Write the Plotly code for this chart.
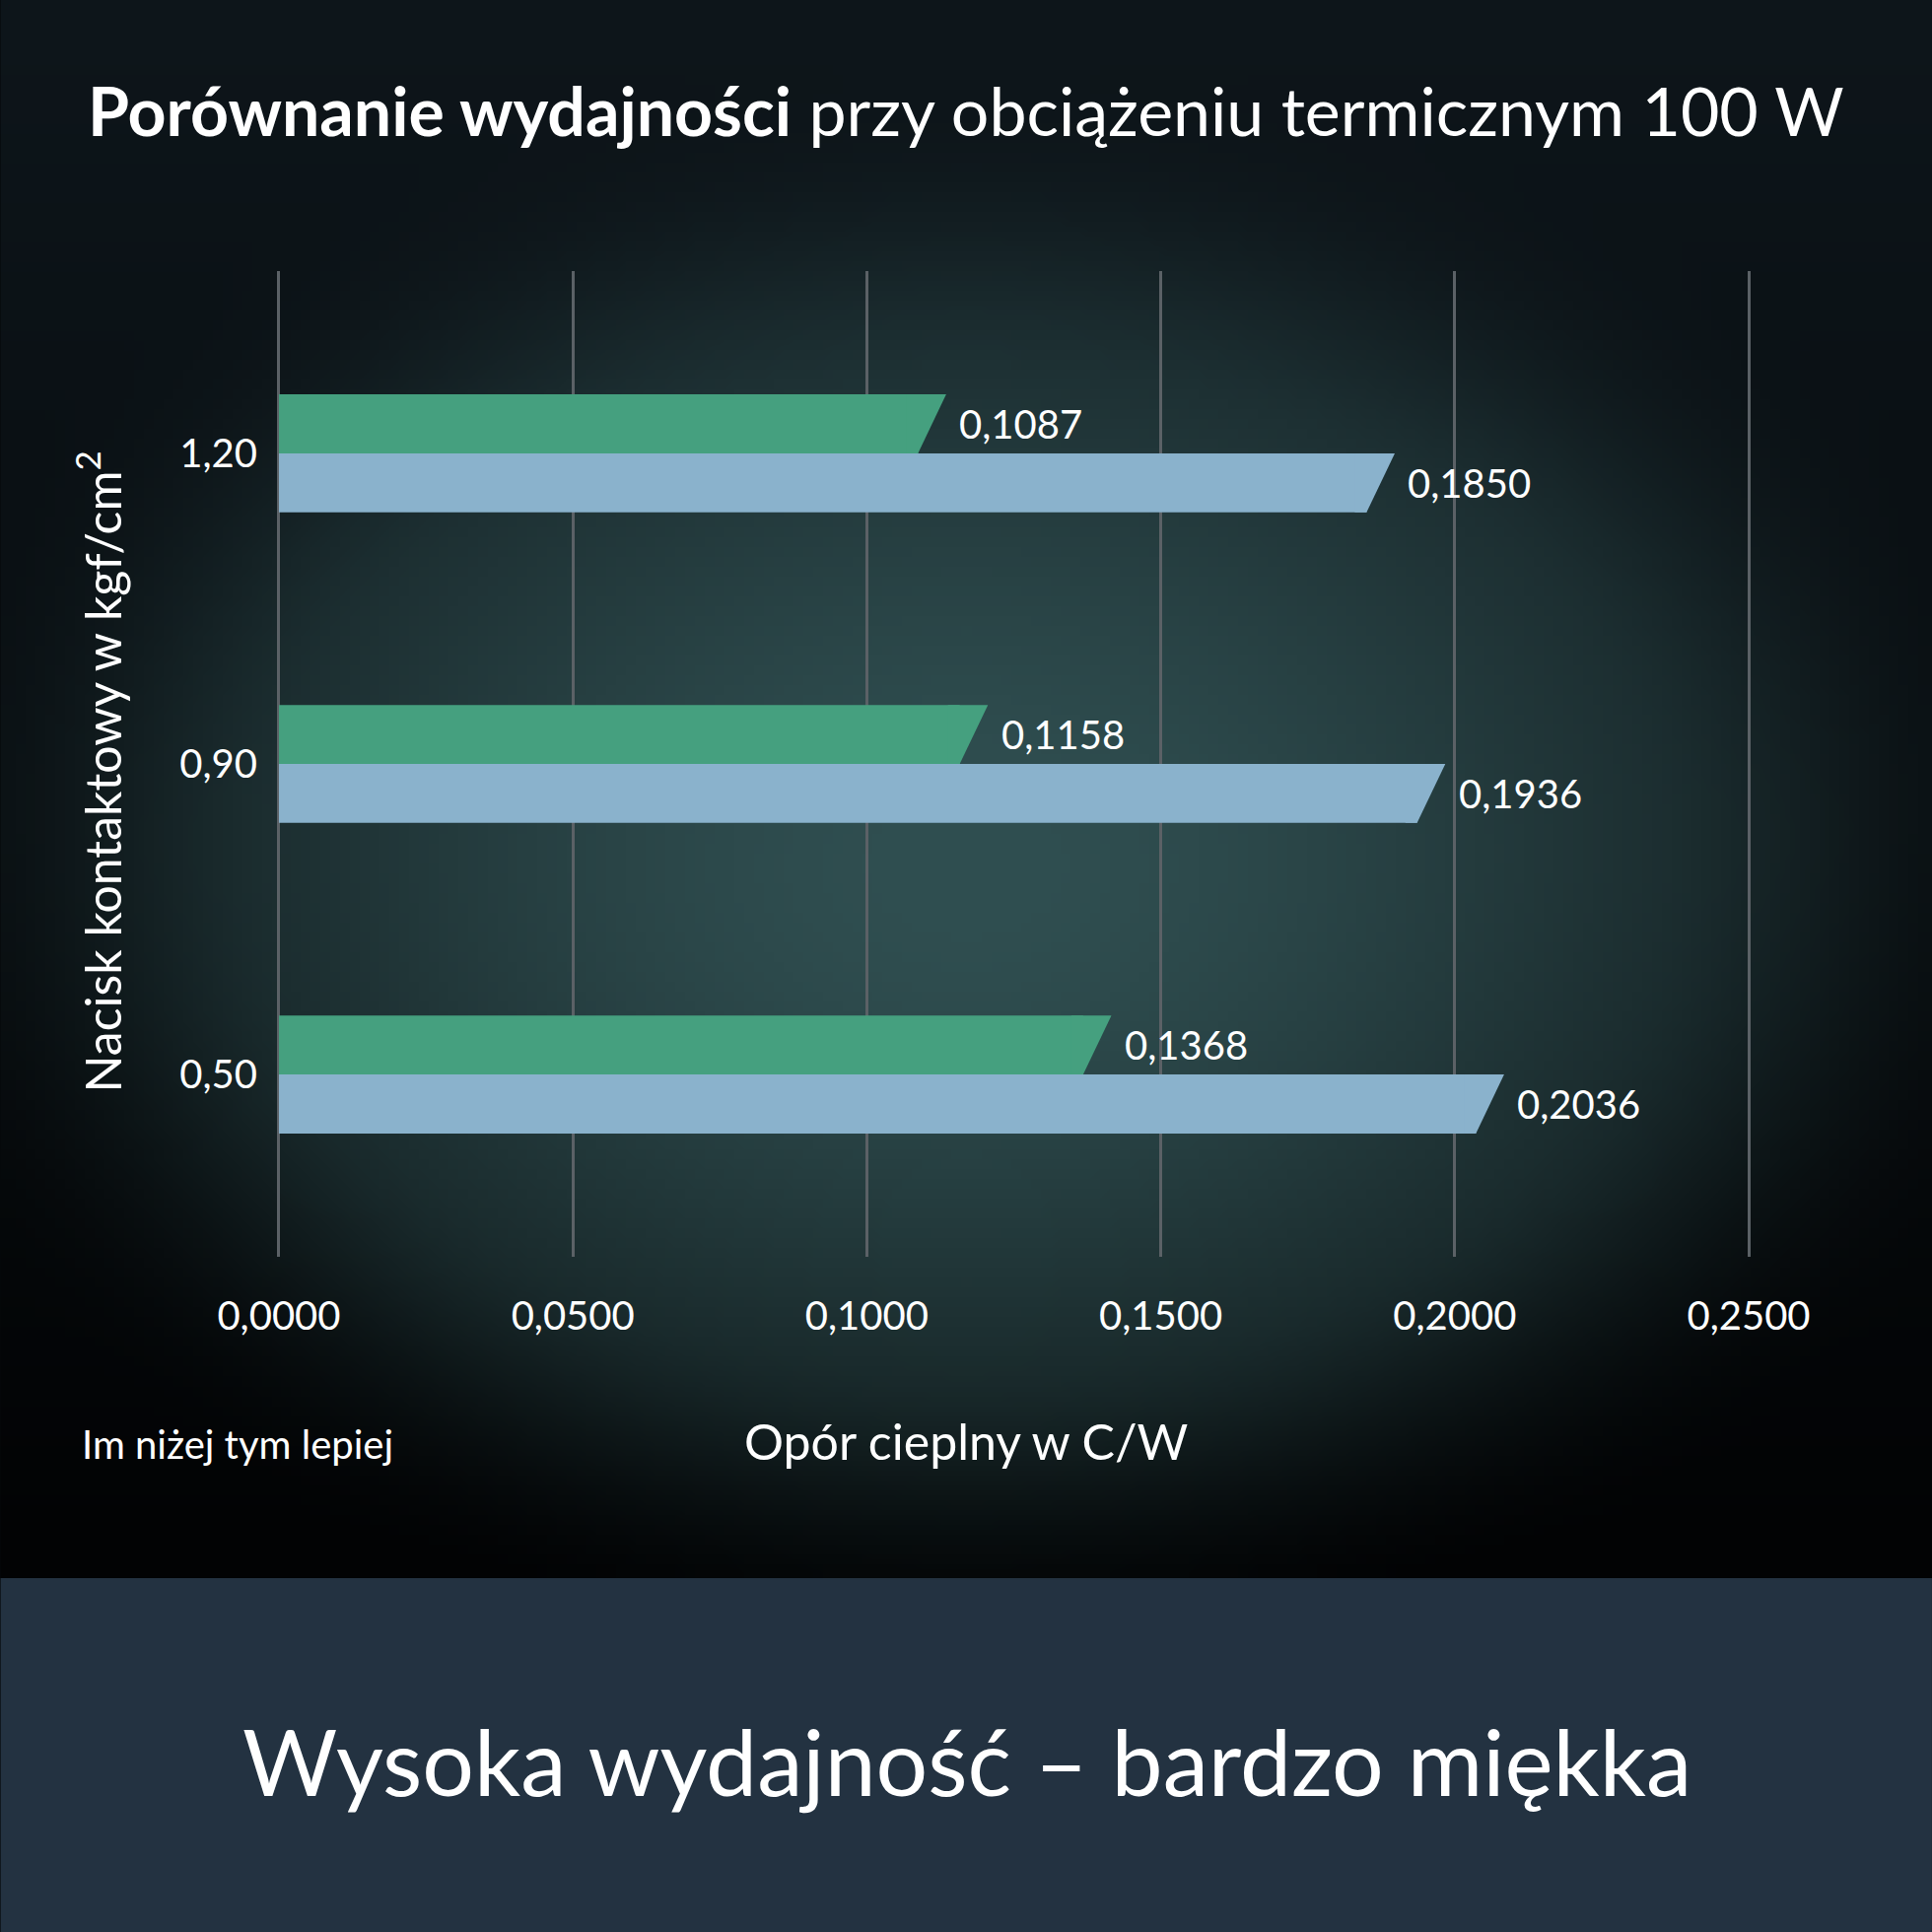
import base64
import struct
import zlib

import numpy as np
import plotly.graph_objects as go

# data
pressure = ["0,50", "0,90", "1,20"]          # kgf/cm2, bottom -> top
green_vals = [0.1368, 0.1158, 0.1087]
blue_vals = [0.2036, 0.1936, 0.1850]
x_ticks = [0, 0.05, 0.10, 0.15, 0.20, 0.25]

GREEN = "#45a07f"
BLUE = "#8ab2cc"
GRID = "#5b6166"
BAND = "#233241"

W = H = 1960
L, R, T, B = 276.5, 180, 275, 685
pw = W - L - R
ph = H - T - B
BAND_TOP = 1601


def px(x):
    # figure pixel -> paper x
    return (x - L) / pw


def py(y):
    # figure pixel -> paper y
    return 1 - (y - T) / ph


def gradient_png(w=196, h=160):
    # radial glow behind the chart, small image stretched by the browser
    xs = (np.arange(w) + 0.5) / w * W
    ys = (np.arange(h) + 0.5) / h * BAND_TOP
    X, Y = np.meshgrid(xs, ys)
    top = np.array([14, 22, 27])
    bottom = np.array([2, 3, 4])
    base = top + (bottom - top) * (Y / BAND_TOP)[..., None]
    d = np.sqrt(((X - 980) / 1000) ** 2 + ((Y - 880) / 720) ** 2)
    s = np.clip((d - 0.7) / 0.45, 0, 1)
    t = np.exp(-1.3 * d ** 2) * (1 - (3 * s ** 2 - 2 * s ** 3))
    t = t[..., None]
    glow = np.array([48, 79, 81])
    img = (base * (1 - t) + glow * t).astype(np.uint8)
    raw = b"".join(b"\x00" + row.tobytes() for row in img)

    def chunk(tag, data):
        c = struct.pack(">I", len(data)) + tag + data
        return c + struct.pack(">I", zlib.crc32(tag + data) & 0xFFFFFFFF)

    png = (b"\x89PNG\r\n\x1a\n"
           + chunk(b"IHDR", struct.pack(">IIBBBBB", w, h, 8, 2, 0, 0, 0))
           + chunk(b"IDAT", zlib.compress(raw, 9))
           + chunk(b"IEND", b""))
    return "data:image/png;base64," + base64.b64encode(png).decode()


fig = go.Figure()

ypos = list(range(len(pressure)))
bar_w = 0.19
tip = 0.0048  # slanted end of each bar

for vals, color, off in [(blue_vals, BLUE, -bar_w), (green_vals, GREEN, 0)]:
    fig.add_trace(go.Bar(x=vals, y=ypos, orientation="h", width=bar_w, offset=off,
                         marker=dict(color=color, line_width=0), hoverinfo="skip"))
    for v, c in zip(vals, ypos):
        y0, y1 = c + off, c + off + bar_w
        fig.add_trace(go.Scatter(x=[v - 0.002, v, v + tip, v - 0.002], y=[y0, y0, y1, y1],
                                 fill="toself", fillcolor=color, mode="none",
                                 showlegend=False, hoverinfo="skip"))
        fig.add_annotation(x=v, y=(y0 + y1) / 2, text=f"{v:.4f}".replace(".", ","),
                           xanchor="left", yanchor="middle", xshift=40, showarrow=False,
                           font=dict(size=40, color="white"))

fig.add_layout_image(source=gradient_png(), xref="paper", yref="paper",
                     x=px(0), y=py(0), sizex=W / pw, sizey=BAND_TOP / ph,
                     xanchor="left", yanchor="top", sizing="stretch", layer="below")

fig.add_shape(type="rect", xref="paper", yref="paper", x0=px(0), x1=px(W),
              y0=py(BAND_TOP), y1=py(H), fillcolor=BAND, line_width=0, layer="below")

texts = [
    dict(x=980, y=112, text="<b>Porównanie wydajności</b> przy obciążeniu termicznym 100 W",
         size=68, xanchor="center"),
    dict(x=980, y=1462, text="Opór cieplny w C/W", size=50, xanchor="center"),
    dict(x=80, y=1465, text="Im niżej tym lepiej", size=40, xanchor="left"),
    dict(x=981, y=1786, text="Wysoka wydajność – bardzo miękka", size=93, xanchor="center"),
]
for t in texts:
    fig.add_annotation(x=px(t["x"]), y=py(t["y"]), xref="paper", yref="paper",
                       text=t["text"], xanchor=t["xanchor"], yanchor="middle",
                       showarrow=False, font=dict(size=t["size"], color="white"))

fig.add_annotation(x=px(99), y=py(783), xref="paper", yref="paper",
                   text="Nacisk kontaktowy w kgf/cm<sup>2</sup>", textangle=-90,
                   xanchor="center", yanchor="middle", showarrow=False,
                   font=dict(size=50, color="white"))

fig.update_layout(
    width=W, height=H,
    margin=dict(l=L, r=R, t=T, b=B, pad=0),
    paper_bgcolor="#05080a",
    plot_bgcolor="rgba(0,0,0,0)",
    barmode="overlay",
    showlegend=False,
    separators=", ",
    font=dict(family="Lato", color="white", size=40),
    xaxis=dict(range=[-0.001, 0.251], tickvals=x_ticks, tickformat=".4f",
               showgrid=True, gridcolor=GRID, gridwidth=2.5, zeroline=False,
               showline=False, ticks="", ticklabelstandoff=33,
               tickfont=dict(size=40, color="white")),
    yaxis=dict(range=[-0.587, 2.587], tickvals=ypos, ticktext=pressure,
               showgrid=False, zeroline=False, showline=False, ticks="",
               ticklabelstandoff=15, tickfont=dict(size=40, color="white")),
)

fig.write_html("out.html", config={"displayModeBar": False},
               post_script="document.body.style.margin = '0';")
